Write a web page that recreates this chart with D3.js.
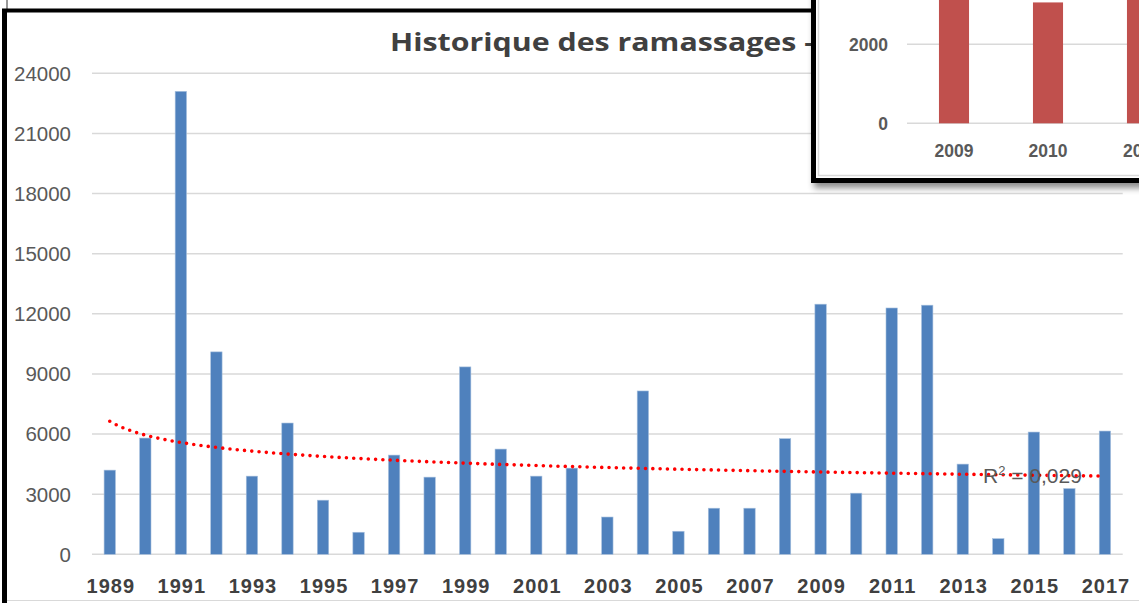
<!DOCTYPE html>
<html>
<head>
<meta charset="utf-8">
<script src="https://cdn.jsdelivr.net/npm/d3@7/dist/d3.min.js"></script>
<style>
html,body{margin:0;padding:0;background:#fff;}
svg{display:block;}
</style>
</head>
<body>
<svg id="chart" width="1139" height="603"></svg>
<script>
// ---- data ----
const years = [1989,1990,1991,1992,1993,1994,1995,1996,1997,1998,1999,2000,2001,2002,2003,2004,2005,2006,2007,2008,2009,2010,2011,2012,2013,2014,2015,2016,2017];
const ramassages = [4200,5800,23100,10100,3900,6550,2700,1100,4950,3850,9350,5250,3900,4300,1860,8150,1150,2300,2300,5770,12480,3050,12290,12430,4500,780,6100,3280,6150];
const yTicks = [0,3000,6000,9000,12000,15000,18000,21000,24000];
const xTickLabels = ["1989","1991","1993","1995","1997","1999","2001","2003","2005","2007","2009","2011","2013","2015","2017"];
const titleText = "Historique des ramassages -";
// inset chart (partially visible)
const insetYears = [2009,2010,2011,2012];
const insetValues = [3500,3060,3400,3200];
const insetTicks = [0,2000];

const svg = d3.select("#chart");

// ---- main chart ----
const x = d3.scaleBand().domain(years).range([92,1122.7]).paddingInner(0.68).paddingOuter(0.34);
const y = d3.scaleLinear().domain([0,24000]).range([554.3,73.3]);

svg.append("line").attr("x1",7).attr("x2",1139).attr("y1",600.5).attr("y2",600.5)
  .attr("stroke","#d9d9d9").attr("stroke-width",1);

svg.append("g").selectAll("line").data(yTicks).join("line")
  .attr("x1",92).attr("x2",1122.7)
  .attr("y1",d=>y(d)).attr("y2",d=>y(d))
  .attr("stroke","#d9d9d9").attr("stroke-width",1.6);

svg.append("g").selectAll("text").data(yTicks).join("text")
  .attr("x",71).attr("y",d=>y(d)).attr("dy","0.36em")
  .attr("text-anchor","end")
  .attr("font-family","'Liberation Sans', Arial, sans-serif")
  .attr("font-size",20.5).attr("fill","#595959")
  .text(d=>d);

svg.append("g").selectAll("rect").data(years).join("rect")
  .attr("x",d=>x(d)).attr("width",x.bandwidth())
  .attr("y",(d,i)=>y(ramassages[i]))
  .attr("height",(d,i)=>y(0)-y(ramassages[i]))
  .attr("fill","#4f81bd")
  .attr("stroke","#a7c0de").attr("stroke-width",0.6);

svg.append("g").selectAll("text").data(xTickLabels).join("text")
  .attr("x",d=>x(+d)+x.bandwidth()/2+1).attr("y",593)
  .attr("text-anchor","middle")
  .attr("font-family","'Liberation Sans', Arial, sans-serif")
  .attr("font-weight","bold").attr("letter-spacing","1px")
  .attr("font-size",20).attr("fill","#404040")
  .text(d=>d);

// power trendline fitted on the data
const n = years.length;
const lx = d3.range(1,n+1).map(Math.log), ly = ramassages.map(Math.log);
const mx = d3.mean(lx), my = d3.mean(ly);
const b = d3.sum(lx.map((v,i)=>(v-mx)*(ly[i]-my))) / d3.sum(lx.map(v=>(v-mx)*(v-mx)));
const a = Math.exp(my - b*mx);
const xIdx = d3.scaleLinear().domain([1,n]).range([x(years[0])+x.bandwidth()/2, x(years[n-1])+x.bandwidth()/2]);
const tPts = d3.range(1,n+0.001,0.05);
svg.append("path")
  .attr("d", d3.line().x(t=>xIdx(t)).y(t=>y(a*Math.pow(t,b)))(tPts))
  .attr("fill","none").attr("stroke","#ff0000").attr("stroke-width",3.6)
  .attr("stroke-linecap","round").attr("stroke-dasharray","0 7.3");

const r2 = svg.append("text").attr("x",983).attr("y",483)
  .attr("font-family","'Liberation Sans', Arial, sans-serif")
  .attr("font-size",21).attr("fill","#595959");
r2.append("tspan").text("R");
r2.append("tspan").attr("font-size",13).attr("dy",-8).text("2");
r2.append("tspan").attr("dy",8).text(" = 0,029");

svg.append("text").attr("x",390).attr("y",51)
  .attr("font-family","'Open Sans', 'Liberation Sans', sans-serif")
  .attr("font-weight","bold").attr("font-size",25).attr("fill","#404040")
  .attr("textLength",424).attr("lengthAdjust","spacingAndGlyphs")
  .text(titleText);

svg.append("line").attr("x1",7).attr("x2",7).attr("y1",0).attr("y2",10).attr("stroke","#333").attr("stroke-width",1);
svg.append("line").attr("x1",4.5).attr("x2",4.5).attr("y1",9).attr("y2",603).attr("stroke","#000").attr("stroke-width",5);
svg.append("line").attr("x1",2).attr("x2",814).attr("y1",10.5).attr("y2",10.5).attr("stroke","#000").attr("stroke-width",4);

// ---- inset ----
const defs = svg.append("defs");
const f = defs.append("filter").attr("id","sh").attr("x","-10%").attr("y","-10%").attr("width","130%").attr("height","130%");
f.append("feDropShadow").attr("dx",3).attr("dy",5).attr("stdDeviation",3).attr("flood-color","#000").attr("flood-opacity",0.45);
defs.append("clipPath").attr("id","insetClip").append("rect").attr("x",816).attr("y",-10).attr("width",400).attr("height",188);

svg.append("rect").attr("x",813.5).attr("y",-20).attr("width",400).attr("height",200.5)
  .attr("fill","#fff").attr("stroke","#000").attr("stroke-width",5).attr("filter","url(#sh)");
const ig = svg.append("g").attr("clip-path","url(#insetClip)");
ig.append("rect").attr("x",818.5).attr("y",-20).attr("width",400).attr("height",195.5)
  .attr("fill","#fff").attr("stroke","#d9d9d9").attr("stroke-width",1.5);

const ix = d3.scaleBand().domain(insetYears).range([907,907+94*insetYears.length]).paddingInner(0.68).paddingOuter(0.34);
const iy = d3.scaleLinear().domain([0,2000]).range([123.3,44.3]);

ig.append("g").selectAll("line").data(insetTicks).join("line")
  .attr("x1",907).attr("x2",1139).attr("y1",d=>iy(d)).attr("y2",d=>iy(d))
  .attr("stroke","#d9d9d9").attr("stroke-width",1.6);
ig.append("g").selectAll("text").data(insetTicks).join("text")
  .attr("x",888).attr("y",d=>iy(d)).attr("dy","0.36em").attr("text-anchor","end")
  .attr("font-family","'Liberation Sans', Arial, sans-serif").attr("font-weight","bold")
  .attr("font-size",17.5).attr("fill","#595959").text(d=>d);
ig.append("g").selectAll("rect").data(insetYears).join("rect")
  .attr("x",d=>ix(d)).attr("width",ix.bandwidth())
  .attr("y",(d,i)=>iy(insetValues[i])).attr("height",(d,i)=>iy(0)-iy(insetValues[i]))
  .attr("fill","#c0504d");
ig.append("g").selectAll("text").data(insetYears).join("text")
  .attr("x",d=>ix(d)+ix.bandwidth()/2).attr("y",157).attr("text-anchor","middle")
  .attr("font-family","'Liberation Sans', Arial, sans-serif").attr("font-weight","bold")
  .attr("font-size",17.5).attr("fill","#595959").text(d=>d);
</script>
</body>
</html>
